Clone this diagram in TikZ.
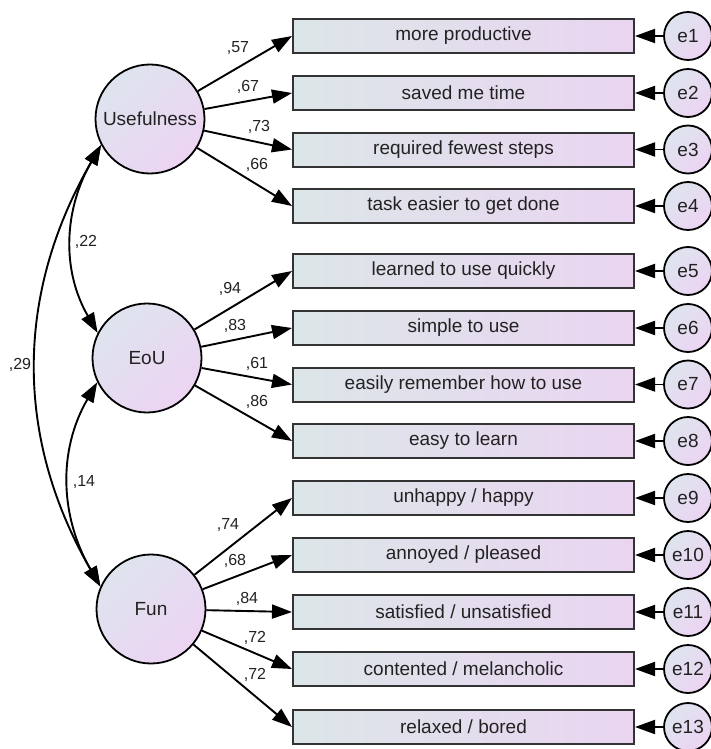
\documentclass[tikz,border=0pt]{standalone}
\usepackage{fontspec}
\setmainfont{Liberation Sans}
\usetikzlibrary{arrows.meta,positioning}
\definecolor{boxleft}{RGB}{220,230,232}
\definecolor{boxright}{RGB}{234,213,241}
\definecolor{latblue}{RGB}{222,228,238}
\definecolor{latpink}{RGB}{236,212,243}
\definecolor{ink}{RGB}{34,34,34}
\tikzset{
	latent/.style={circle, draw=black, line width=1.8pt, minimum size=109pt, inner sep=0pt, top color=latblue, bottom color=latpink, shading angle=45, text=ink, font=\fontsize{19}{22}\selectfont},
	errvar/.style={circle, draw=black, line width=1.8pt, minimum size=48pt, inner sep=0pt, top color=latblue, bottom color=latpink, shading angle=45, text=ink, font=\fontsize{19}{22}\selectfont},
	item/.style={rectangle, draw=black!80, line width=2pt, minimum width=341pt, minimum height=34pt, inner sep=0pt, left color=boxleft, right color=boxright, text=ink, font=\fontsize{19}{22}\selectfont},
	load/.style={-{Triangle[length=20pt,width=14pt]}, line width=1.9pt},
	covar/.style={{Triangle[length=20pt,width=14pt]}-{Triangle[length=20pt,width=14pt]}, line width=1.9pt},
	coef/.style={inner sep=0pt, text=ink, font=\fontsize{16}{18}\selectfont}
}

\begin{document}
\begin{tikzpicture}[x=1pt, y=1pt]
			%%%%% START %%%%%
			\useasboundingbox (0,0) rectangle (711,-749);
			\clip (0,0) rectangle (711,-749);
			
			\node[latent] (use) at (150,-119) {Usefulness};
			\node[latent] (eou) at (147,-358) {EoU};
			\node[latent] (fun) at (151,-609) {Fun};
			
			\node[item] (b1) at (463.5,-36) {more productive};
			\node[item] (b2) at (463.5,-93) {saved me time};
			\node[item] (b3) at (463.5,-149.5) {required fewest steps};
			\node[item] (b4) at (463.5,-206) {task easier to get done};
			\node[item] (b5) at (463.5,-271) {learned to use quickly};
			\node[item] (b6) at (463.5,-328) {simple to use};
			\node[item] (b7) at (463.5,-384.5) {easily remember how to use};
			\node[item] (b8) at (463.5,-441) {easy to learn};
			\node[item] (b9) at (463.5,-498) {unhappy / happy};
			\node[item] (b10) at (463.5,-555) {annoyed / pleased};
			\node[item] (b11) at (463.5,-612) {satisfied / unsatisfied};
			\node[item] (b12) at (463.5,-669) {contented / melancholic};
			\node[item] (b13) at (463.5,-727) {relaxed / bored};
			
			\node[errvar] (e1) at (688,-36) {e1};
			\node[errvar] (e2) at (688,-93) {e2};
			\node[errvar] (e3) at (688,-149.5) {e3};
			\node[errvar] (e4) at (688,-206) {e4};
			\node[errvar] (e5) at (688,-271) {e5};
			\node[errvar] (e6) at (688,-328) {e6};
			\node[errvar] (e7) at (688,-384.5) {e7};
			\node[errvar] (e8) at (688,-441) {e8};
			\node[errvar] (e9) at (688,-498) {e9};
			\node[errvar] (e10) at (688,-555) {e10};
			\node[errvar] (e11) at (688,-612) {e11};
			\node[errvar] (e12) at (688,-669) {e12};
			\node[errvar] (e13) at (688,-727) {e13};
			
			% loadings
			\draw[load] (use) -- (b1.west);
			\draw[load] (use) -- (b2.west);
			\draw[load] (use) -- (b3.west);
			\draw[load] (use) -- (b4.west);
			\draw[load] (eou) -- (b5.west);
			\draw[load] (eou) -- (b6.west);
			\draw[load] (eou) -- (b7.west);
			\draw[load] (eou) -- (b8.west);
			\draw[load] (fun) -- (b9.west);
			\draw[load] (fun) -- (b10.west);
			\draw[load] (fun) -- (b11.west);
			\draw[load] (fun) -- (b12.west);
			\draw[load] (fun) -- (b13.west);
			
			% errors
			\draw[load] (e1) -- (b1.east);
			\draw[load] (e2) -- (b2.east);
			\draw[load] (e3) -- (b3.east);
			\draw[load] (e4) -- (b4.east);
			\draw[load] (e5) -- (b5.east);
			\draw[load] (e6) -- (b6.east);
			\draw[load] (e7) -- (b7.east);
			\draw[load] (e8) -- (b8.east);
			\draw[load] (e9) -- (b9.east);
			\draw[load] (e10) -- (b10.east);
			\draw[load] (e11) -- (b11.east);
			\draw[load] (e12) -- (b12.east);
			\draw[load] (e13) -- (b13.east);
			
			% covariances
			\draw[covar] (use.208) to[out=240, in=120] (eou.153);
			\draw[covar] (eou.206) to[out=240, in=120] (fun.156);
			\draw[covar] (use.208) to[out=240, in=120] (fun.156);
			
			\node[coef] (c22) at (86,-242) {,22};
			\node[coef] (c14) at (84,-482) {,14};
			\node[coef] (c29) at (20,-365) {,29};
			
			\node[coef] (c1) at (238,-48) {,57};
			\node[coef] (c2) at (248,-87) {,67};
			\node[coef] (c3) at (259,-127) {,73};
			\node[coef] (c4) at (257,-165) {,66};
			\node[coef] (c5) at (230,-289) {,94};
			\node[coef] (c6) at (235,-326) {,83};
			\node[coef] (c7) at (257,-364) {,61};
			\node[coef] (c8) at (257,-402) {,86};
			\node[coef] (c9) at (228,-525) {,74};
			\node[coef] (c10) at (235,-561) {,68};
			\node[coef] (c11) at (247,-599) {,84};
			\node[coef] (c12) at (255,-638) {,72};
			\node[coef] (c13) at (255,-675) {,72};
			
			%%%%% END %%%%%
\end{tikzpicture}
\end{document}
